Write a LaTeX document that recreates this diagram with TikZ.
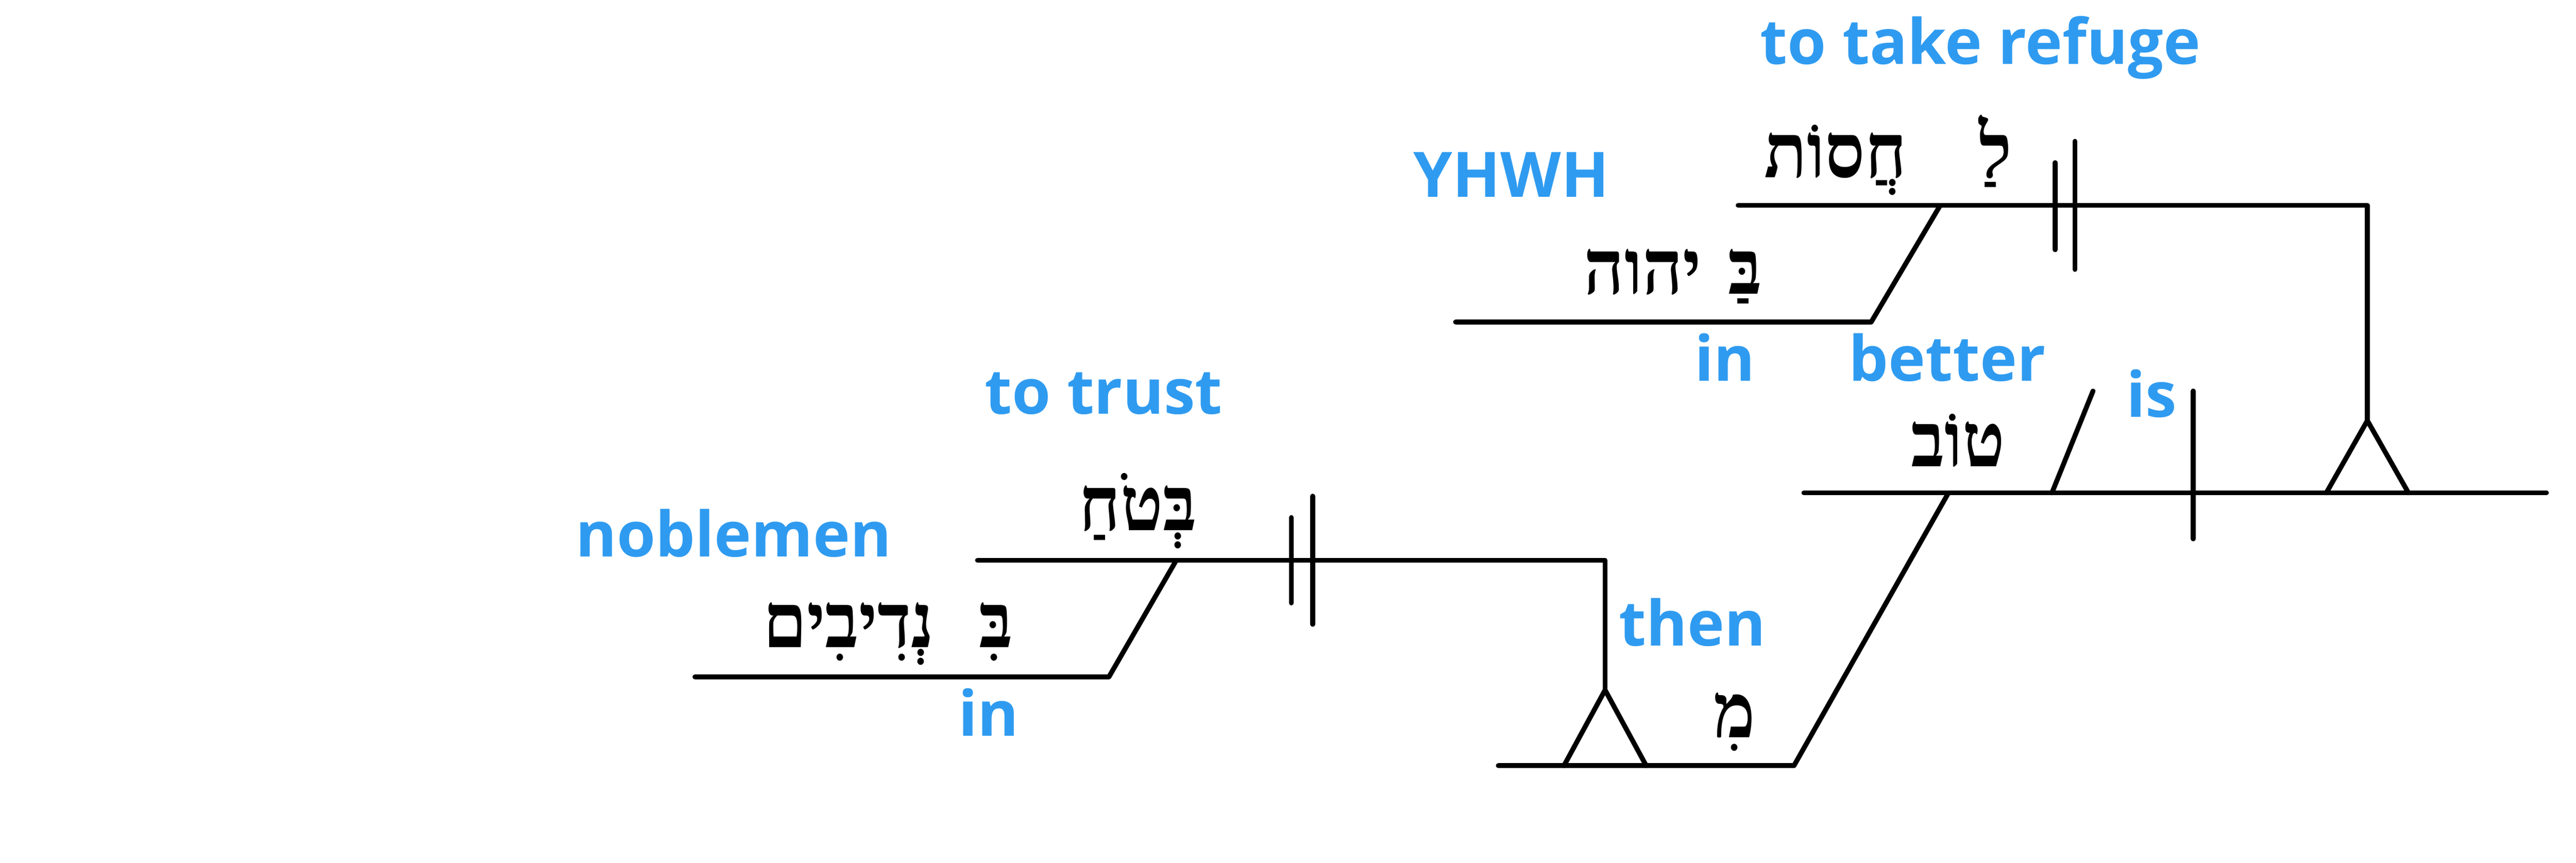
\documentclass[tikz,border=0pt]{standalone}
\usepackage{fontspec}
\usepackage{tikz}
\usetikzlibrary{positioning}
\TeXXeTstate=1
\newfontfamily\lblfont{Open Sans}
\newfontfamily\hebfont[Script=Hebrew, FakeStretch=0.92]{Liberation Serif}
\definecolor{lblblue}{RGB}{47,155,240}
\newcommand{\heb}[1]{\hebfont\bfseries\beginR #1\endR}

\begin{document}
\begin{tikzpicture}[x=0.1mm, y=-0.1mm,
  lbl/.style = {inner sep = 0pt, anchor = base west, text = lblblue, font = \lblfont\bfseries\fontsize{10.85pt}{13pt}\selectfont},
  word/.style = {inner sep = 0pt, anchor = base east, font = \fontsize{13.2pt}{15pt}\selectfont},
  every path/.style = {line width = 0.85pt, line cap = round, line join = round}]
\useasboundingbox (0,0) rectangle (1568,525);

% main clause
\coordinate (m0) at (1098,300);
\coordinate (m1) at (1550,300);
\coordinate (p0) at (1249,300);
\coordinate (p1) at (1274,238);
\coordinate (d0) at (1335,238);
\coordinate (d1) at (1335,328);
\draw (m0) -- (m1);
\draw (p0) -- (p1);
\draw (d0) -- (d1);

% subject: to take refuge in YHWH
\coordinate (t0) at (1058,125);
\coordinate (t1) at (1441,125);
\coordinate (t2) at (1441,256);
\coordinate (t2l) at (1416,300);
\coordinate (t2r) at (1466,300);
\draw (t0) -- (t1) -- (t2);
\draw (t2l) -- (t2) -- (t2r);
\coordinate (b0) at (1251,99);
\coordinate (b1) at (1251,152);
\coordinate (b2) at (1263,86);
\coordinate (b3) at (1263,164);
\draw (b0) -- (b1);
\draw (b2) -- (b3);
\coordinate (y0) at (1181,125);
\coordinate (y1) at (1139,196);
\coordinate (y2) at (886,196);
\draw (y0) -- (y1) -- (y2);

% than: to trust in noblemen
\coordinate (c0) at (1186,300);
\coordinate (c1) at (1092,466);
\coordinate (c2) at (912,466);
\draw (c0) -- (c1) -- (c2);
\coordinate (s0) at (977,420);
\coordinate (s0l) at (952,466);
\coordinate (s0r) at (1002,466);
\coordinate (s1) at (977,341);
\coordinate (s2) at (595,341);
\draw (s0l) -- (s0) -- (s0r);
\draw (s0) -- (s1) -- (s2);
\coordinate (e0) at (786,315);
\coordinate (e1) at (786,367);
\coordinate (e2) at (799,302);
\coordinate (e3) at (799,380);
\draw (e0) -- (e1);
\draw (e2) -- (e3);
\coordinate (n0) at (716,341);
\coordinate (n1) at (675,412);
\coordinate (n2) at (423,412);
\draw (n0) -- (n1) -- (n2);

% hebrew words
\node[word] (w1) at (1226,108) {\heb{לַ}};
\node[word] (w2) at (1162,108) {\heb{חֲסוֹת}};
\node[word] (w3) at (1074,179) {\heb{בַּ}};
\node[word] (w4) at (1037,179) {\heb{יהוה}};
\node[word] (w5) at (1222,284) {\heb{טוֹב}};
\node[word] (w6) at (1070,449) {\heb{מִ}};
\node[word] (w7) at (730,323) {\heb{בְּטֹחַ}};
\node[word] (w8) at (618,394) {\heb{בִּ}};
\node[word] (w9) at (570,394) {\heb{נְדִיבִים}};

% glosses
\node[lbl] (g1) at (1070,39) {to take refuge};
\node[lbl] (g2) at (859,120) {YHWH};
\node[lbl] (g3) at (1030,232) {in};
\node[lbl] (g4) at (1124,232) {better};
\node[lbl] (g5) at (1293,254) {is};
\node[lbl] (g6) at (984,393) {then};
\node[lbl] (g7) at (598,252) {to trust};
\node[lbl] (g8) at (349,339) {noblemen};
\node[lbl] (g9) at (582,448) {in};
\end{tikzpicture}
\end{document}
